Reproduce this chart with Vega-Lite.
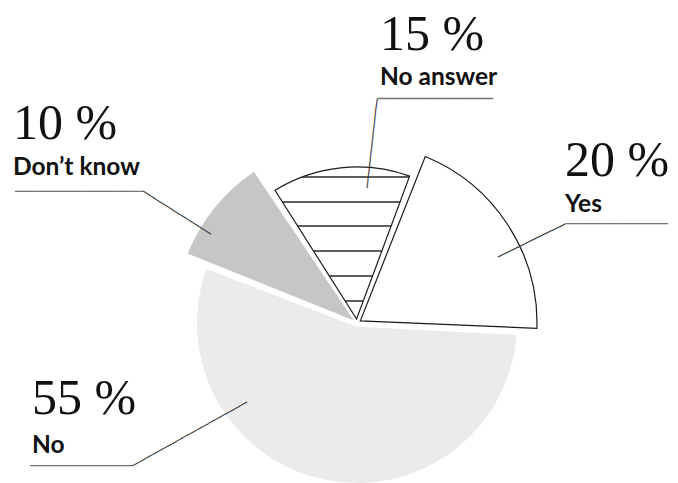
{
  "$schema": "https://vega.github.io/schema/vega-lite/v6.json",
  "width": 642,
  "height": 320,
  "autosize": {"type": "none"},
  "padding": {"left": 36, "top": 163, "right": 0, "bottom": 0},
  "background": "white",
  "config": {"view": {"stroke": null}},
  "data": {
    "values": [
      {"answer": "Yes", "pct": 20, "label": "20 %"},
      {"answer": "No", "pct": 55, "label": "55 %"},
      {"answer": "Don’t know", "pct": 10, "label": "10 %"},
      {"answer": "No answer", "pct": 15, "label": "15 %"}
    ]
  },
  "transform": [{"stack": "pct", "groupby": [], "as": ["t0", "t1"]}],
  "layer": [
    {
      "transform": [{"filter": {"field": "answer", "equal": "No"}}],
      "layer": [
        {
          "mark": {"type": "arc", "radius": 160, "radius2": 4, "padAngle": 0.045, "fill": "#ebebeb", "stroke": null},
          "encoding": {
            "theta": {"field": "t0", "type": "quantitative", "stack": null, "scale": {"domain": [0, 100], "range": [0.36652, 6.64971]}},
            "theta2": {"field": "t1"}
          }
        },
        {
          "mark": {"type": "text", "radius": 160, "align": "left", "baseline": "alphabetic", "font": "Liberation Serif", "fontSize": 50, "fill": "#111", "dx": -175.6, "dy": 148.3},
          "encoding": {
            "theta": {"field": "t1", "type": "quantitative", "stack": null, "scale": {"domain": [0, 100], "range": [0.36652, 6.64971]}},
            "text": {"field": "label"}
          }
        },
        {
          "mark": {"type": "text", "radius": 160, "align": "left", "baseline": "alphabetic", "font": "Lato", "fontWeight": "bold", "fontSize": 24.5, "fill": "#111", "dx": -175.6, "dy": 187.3},
          "encoding": {
            "theta": {"field": "t1", "type": "quantitative", "stack": null, "scale": {"domain": [0, 100], "range": [0.36652, 6.64971]}},
            "text": {"field": "answer"}
          }
        },
        {
          "mark": {"type": "text", "radius": 160, "align": "left", "baseline": "alphabetic", "font": "DejaVu Sans Mono", "fontSize": 15.4, "fill": "#777", "text": "───────────", "dx": -177.6, "dy": 205.7},
          "encoding": {
            "theta": {"field": "t1", "type": "quantitative", "stack": null, "scale": {"domain": [0, 100], "range": [0.36652, 6.64971]}}
          }
        },
        {
          "mark": {"type": "text", "radius": 160, "align": "left", "baseline": "alphabetic", "font": "DejaVu Sans Mono", "fontSize": 12.14, "fill": "#333", "opacity": 0.99, "text": "──────────────────", "angle": 330.9, "dx": -163.5, "dy": 142.5},
          "encoding": {
            "theta": {"field": "t1", "type": "quantitative", "stack": null, "scale": {"domain": [0, 100], "range": [0.36652, 6.64971]}}
          }
        }
      ]
    },
    {
      "transform": [{"filter": {"field": "answer", "equal": "Don’t know"}}],
      "layer": [
        {
          "mark": {"type": "arc", "radius": 183, "radius2": 4, "padAngle": 0.045, "fill": "#c6c6c6", "stroke": null},
          "encoding": {
            "theta": {"field": "t0", "type": "quantitative", "stack": null, "scale": {"domain": [0, 100], "range": [0.36652, 6.64971]}},
            "theta2": {"field": "t1"}
          }
        },
        {
          "mark": {"type": "text", "radius": 183, "align": "left", "baseline": "alphabetic", "font": "Liberation Serif", "fontSize": 50, "fill": "#111", "dx": -173.2, "dy": -118.4},
          "encoding": {
            "theta": {"field": "t0", "type": "quantitative", "stack": null, "scale": {"domain": [0, 100], "range": [0.36652, 6.64971]}},
            "text": {"field": "label"}
          }
        },
        {
          "mark": {"type": "text", "radius": 183, "align": "left", "baseline": "alphabetic", "font": "Lato", "fontWeight": "bold", "fontSize": 24.5, "fill": "#111", "dx": -173.2, "dy": -82.4},
          "encoding": {
            "theta": {"field": "t0", "type": "quantitative", "stack": null, "scale": {"domain": [0, 100], "range": [0.36652, 6.64971]}},
            "text": {"field": "answer"}
          }
        },
        {
          "mark": {"type": "text", "radius": 183, "align": "left", "baseline": "alphabetic", "font": "DejaVu Sans Mono", "fontSize": 16.36, "fill": "#777", "text": "─────────────", "dx": -171.2, "dy": -60.7},
          "encoding": {
            "theta": {"field": "t0", "type": "quantitative", "stack": null, "scale": {"domain": [0, 100], "range": [0.36652, 6.64971]}}
          }
        },
        {
          "mark": {"type": "text", "radius": 183, "align": "left", "baseline": "alphabetic", "font": "DejaVu Sans Mono", "fontSize": 12.16, "fill": "#333", "opacity": 0.99, "text": "───────────", "angle": 32.31, "dx": -72.0, "dy": -28.8},
          "encoding": {
            "theta": {"field": "t0", "type": "quantitative", "stack": null, "scale": {"domain": [0, 100], "range": [0.36652, 6.64971]}}
          }
        }
      ]
    },
    {
      "transform": [{"filter": {"field": "answer", "equal": "No answer"}}],
      "layer": [
        {
          "mark": {
            "type": "arc", "radius": 156, "radius2": 4, "padAngle": 0.045, "stroke": "#1a1a1a", "strokeWidth": 1.2,
            "fill": {
              "gradient": "linear", "x1": 0, "y1": 0, "x2": 0, "y2": 1,
              "stops": [
                {"offset": 0, "color": "#ffffff"},
                {"offset": 0.06, "color": "#ffffff"}, {"offset": 0.06, "color": "#5e5e5e"}, {"offset": 0.07, "color": "#5e5e5e"}, {"offset": 0.07, "color": "#ffffff"},
                {"offset": 0.226, "color": "#ffffff"}, {"offset": 0.226, "color": "#5e5e5e"}, {"offset": 0.236, "color": "#5e5e5e"}, {"offset": 0.236, "color": "#ffffff"},
                {"offset": 0.384, "color": "#ffffff"}, {"offset": 0.384, "color": "#5e5e5e"}, {"offset": 0.394, "color": "#5e5e5e"}, {"offset": 0.394, "color": "#ffffff"},
                {"offset": 0.548, "color": "#ffffff"}, {"offset": 0.548, "color": "#5e5e5e"}, {"offset": 0.558, "color": "#5e5e5e"}, {"offset": 0.558, "color": "#ffffff"},
                {"offset": 0.712, "color": "#ffffff"}, {"offset": 0.712, "color": "#5e5e5e"}, {"offset": 0.722, "color": "#5e5e5e"}, {"offset": 0.722, "color": "#ffffff"},
                {"offset": 0.877, "color": "#ffffff"}, {"offset": 0.877, "color": "#5e5e5e"}, {"offset": 0.887, "color": "#5e5e5e"}, {"offset": 0.887, "color": "#ffffff"},
                {"offset": 1, "color": "#ffffff"}
              ]
            }
          },
          "encoding": {
            "theta": {"field": "t0", "type": "quantitative", "stack": null, "scale": {"domain": [0, 100], "range": [0.36652, 6.64971]}},
            "theta2": {"field": "t1"}
          }
        },
        {
          "mark": {"type": "text", "radius": 156, "align": "left", "baseline": "alphabetic", "font": "Liberation Serif", "fontSize": 50, "fill": "#111", "dx": 108, "dy": -142.2},
          "encoding": {
            "theta": {"field": "t0", "type": "quantitative", "stack": null, "scale": {"domain": [0, 100], "range": [0.36652, 6.64971]}},
            "text": {"field": "label"}
          }
        },
        {
          "mark": {"type": "text", "radius": 156, "align": "left", "baseline": "alphabetic", "font": "Lato", "fontWeight": "bold", "fontSize": 24.5, "fill": "#111", "dx": 108, "dy": -107.2},
          "encoding": {
            "theta": {"field": "t0", "type": "quantitative", "stack": null, "scale": {"domain": [0, 100], "range": [0.36652, 6.64971]}},
            "text": {"field": "answer"}
          }
        },
        {
          "mark": {"type": "text", "radius": 156, "align": "left", "baseline": "alphabetic", "font": "DejaVu Sans Mono", "fontSize": 16.06, "fill": "#777", "text": "────────────", "dx": 105, "dy": -88.6},
          "encoding": {
            "theta": {"field": "t0", "type": "quantitative", "stack": null, "scale": {"domain": [0, 100], "range": [0.36652, 6.64971]}}
          }
        },
        {
          "mark": {"type": "text", "radius": 156, "align": "left", "baseline": "alphabetic", "font": "DejaVu Sans Mono", "fontSize": 12.4, "fill": "#333", "opacity": 0.99, "text": "────────────", "angle": 276.41, "dx": 14.8, "dy": 98.2},
          "encoding": {
            "theta": {"field": "t0", "type": "quantitative", "stack": null, "scale": {"domain": [0, 100], "range": [0.36652, 6.64971]}}
          }
        }
      ]
    },
    {
      "transform": [{"filter": {"field": "answer", "equal": "Yes"}}],
      "layer": [
        {
          "mark": {"type": "arc", "radius": 180, "radius2": 4, "padAngle": 0.045, "fill": "#ffffff", "stroke": "#1a1a1a", "strokeWidth": 1.2},
          "encoding": {
            "theta": {"field": "t0", "type": "quantitative", "stack": null, "scale": {"domain": [0, 100], "range": [0.36652, 6.64971]}},
            "theta2": {"field": "t1"}
          }
        },
        {
          "mark": {"type": "text", "radius": 180, "align": "left", "baseline": "alphabetic", "font": "Liberation Serif", "fontSize": 50, "fill": "#111", "dx": 143.5, "dy": 21},
          "encoding": {
            "theta": {"field": "t0", "type": "quantitative", "stack": null, "scale": {"domain": [0, 100], "range": [0.36652, 6.64971]}},
            "text": {"field": "label"}
          }
        },
        {
          "mark": {"type": "text", "radius": 180, "align": "left", "baseline": "alphabetic", "font": "Lato", "fontWeight": "bold", "fontSize": 24.5, "fill": "#111", "dx": 143.5, "dy": 57},
          "encoding": {
            "theta": {"field": "t0", "type": "quantitative", "stack": null, "scale": {"domain": [0, 100], "range": [0.36652, 6.64971]}},
            "text": {"field": "answer"}
          }
        },
        {
          "mark": {"type": "text", "radius": 180, "align": "left", "baseline": "alphabetic", "font": "DejaVu Sans Mono", "fontSize": 15.55, "fill": "#777", "text": "───────────", "dx": 143.5, "dy": 74.4},
          "encoding": {
            "theta": {"field": "t0", "type": "quantitative", "stack": null, "scale": {"domain": [0, 100], "range": [0.36652, 6.64971]}}
          }
        },
        {
          "mark": {"type": "text", "radius": 180, "align": "left", "baseline": "alphabetic", "font": "DejaVu Sans Mono", "fontSize": 12.4, "fill": "#333", "opacity": 0.99, "text": "──────────", "angle": 333.78, "dx": 23.6, "dy": 129.6},
          "encoding": {
            "theta": {"field": "t0", "type": "quantitative", "stack": null, "scale": {"domain": [0, 100], "range": [0.36652, 6.64971]}}
          }
        }
      ]
    }
  ]
}
